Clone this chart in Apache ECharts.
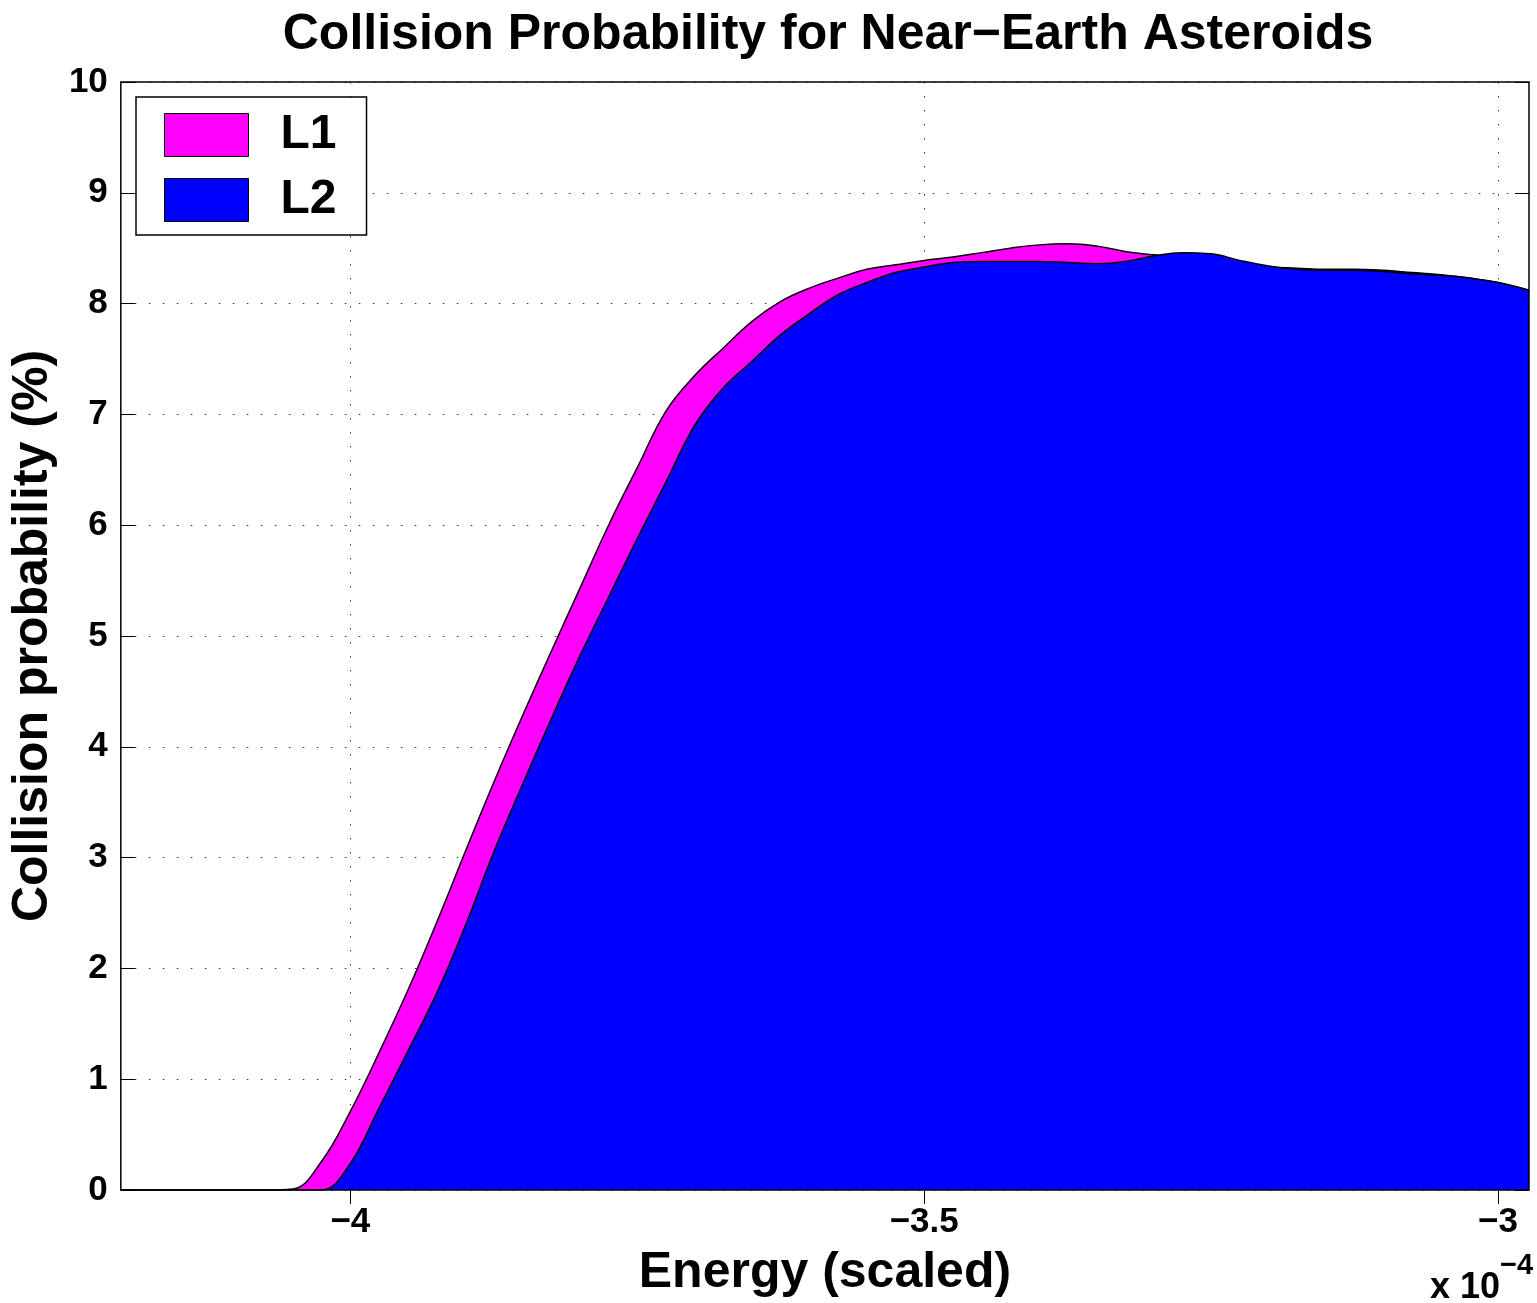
<!DOCTYPE html>
<html>
<head>
<meta charset="utf-8">
<title>Collision Probability</title>
<script src="https://cdn.jsdelivr.net/npm/echarts@6/dist/echarts.min.js"></script>
<style>
  html, body { margin: 0; padding: 0; background: #fff; }
  #chart { width: 1537px; height: 1303px; }
</style>
</head>
<body>
<div id="chart"></div>
<script>
// energy in units of 1e-4 (shared by both curves), probability in %
var energy = [-4.2, -4.075, -4.05, -4.025, -4.0, -3.975, -3.95, -3.925, -3.9, -3.875,
  -3.85, -3.825, -3.8, -3.775, -3.75, -3.725, -3.7, -3.675, -3.65, -3.625,
  -3.6, -3.575, -3.55, -3.525, -3.5, -3.475, -3.45, -3.425, -3.4, -3.375,
  -3.35, -3.325, -3.3, -3.275, -3.25, -3.225, -3.2, -3.175, -3.15, -3.125,
  -3.1, -3.075, -3.05, -3.025, -3.0, -2.973];
var l1Prob = [0, 0, 0.01, 0.26, 0.71, 1.24, 1.80, 2.41, 3.05, 3.68,
  4.28, 4.86, 5.43, 6.0, 6.52, 7.03, 7.35, 7.6, 7.84, 8.02,
  8.14, 8.23, 8.31, 8.35, 8.39, 8.42, 8.46, 8.50, 8.53, 8.54,
  8.52, 8.47, 8.44, 8.42, 8.40, 8.36, 8.33, 8.32, 8.31, 8.31,
  8.30, 8.28, 8.26, 8.23, 8.19, 8.12];
var l2Prob = [0, 0, 0, 0, 0.24, 0.74, 1.25, 1.77, 2.38, 3.05,
  3.66, 4.25, 4.82, 5.35, 5.88, 6.39, 6.90, 7.24, 7.48, 7.72,
  7.91, 8.08, 8.19, 8.28, 8.33, 8.37, 8.38, 8.38, 8.38, 8.37,
  8.36, 8.38, 8.43, 8.46, 8.45, 8.39, 8.34, 8.31, 8.30, 8.30,
  8.29, 8.27, 8.255, 8.23, 8.19, 8.12];

var seriesNames = ['L1', 'L2'];
var xTicks = [-4, -3.5, -3];
var xMin = -4.2, xMax = -2.973;
var yMin = 0, yMax = 10;

function pairs(xs, ys) {
  return xs.map(function (x, i) { return [x, ys[i]]; });
}

var font = 'Liberation Sans, Arial, sans-serif';
var myChart = echarts.init(document.getElementById('chart'));

var dotted = { color: '#333', width: 1, type: [1.5, 12.5] };
var tickStyle = { color: '#000', width: 1 };

var option = {
  animation: false,
  backgroundColor: '#fff',
  title: {
    text: 'Collision Probability for Near\u2212Earth Asteroids',
    left: 828,
    top: 10,
    textAlign: 'center',
    padding: 0,
    textStyle: { fontFamily: font, fontWeight: 'bold', fontSize: 50, color: '#000' }
  },
  legend: {
    data: seriesNames,
    orient: 'vertical',
    left: 136,
    top: 97,
    padding: [14, 30, 11, 28],
    itemWidth: 84,
    itemHeight: 43,
    itemGap: 17,
    icon: 'rect',
    backgroundColor: '#fff',
    borderColor: '#000',
    borderWidth: 1.5,
    borderRadius: 0,
    itemStyle: { borderColor: '#000', borderWidth: 1 },
    textStyle: { fontFamily: font, fontWeight: 'bold', fontSize: 48, color: '#000', padding: [0, 0, 0, 27] }
  },
  grid: {
    left: 120, right: 8, top: 82, bottom: 111,
    show: true,
    borderColor: '#000',
    borderWidth: 1.5,
    z: 10
  },
  xAxis: [
    {
      type: 'value',
      min: xMin, max: xMax,
      splitNumber: 2,
      name: 'Energy (scaled)',
      nameLocation: 'middle',
      nameGap: 58,
      nameTextStyle: { fontFamily: font, fontWeight: 'bold', fontSize: 50, color: '#000' },
      axisLine: { show: false },
      axisTick: { inside: true, length: 14, customValues: xTicks, lineStyle: tickStyle },
      axisLabel: {
        customValues: xTicks,
        margin: 15,
        fontFamily: font, fontWeight: 'bold', fontSize: 35, color: '#000',
        formatter: function (v) { return (v < 0 ? '\u2212' : '') + Math.abs(v); }
      },
      splitLine: { show: true, lineStyle: dotted }
    },
    {
      type: 'value',
      position: 'top',
      min: xMin, max: xMax,
      splitNumber: 2,
      axisLine: { show: false },
      axisTick: { inside: true, length: 14, customValues: xTicks, lineStyle: tickStyle },
      axisLabel: { show: false },
      splitLine: { show: false }
    }
  ],
  yAxis: [
    {
      type: 'value',
      min: yMin, max: yMax, interval: 1,
      name: 'Collision probability (%)',
      nameLocation: 'middle',
      nameGap: 52,
      nameTextStyle: { fontFamily: font, fontWeight: 'bold', fontSize: 50, color: '#000' },
      axisLine: { show: false },
      axisTick: { inside: true, length: 14, lineStyle: tickStyle },
      axisLabel: { margin: 13, fontFamily: font, fontWeight: 'bold', fontSize: 35, color: '#000' },
      splitLine: { show: true, lineStyle: dotted }
    },
    {
      type: 'value',
      position: 'right',
      min: yMin, max: yMax, interval: 1,
      axisLine: { show: false },
      axisTick: { inside: true, length: 14, lineStyle: tickStyle },
      axisLabel: { show: false },
      splitLine: { show: false }
    }
  ],
  graphic: [
    {
      type: 'text', x: 1500, y: 1288, z: 20,
      style: { text: 'x 10', align: 'right', verticalAlign: 'middle', font: 'bold 36px ' + font, fill: '#000' }
    },
    {
      type: 'text', x: 1500, y: 1266, z: 20,
      style: { text: '\u22124', align: 'left', verticalAlign: 'middle', font: 'bold 29px ' + font, fill: '#000' }
    }
  ],
  series: [
    {
      name: 'L1',
      type: 'line',
      z: 2,
      smooth: 0.4,
      showSymbol: false,
      symbol: 'none',
      itemStyle: { color: '#ff00ff' },
      lineStyle: { color: '#000', width: 1.5 },
      areaStyle: { color: '#ff00ff', opacity: 1 },
      data: pairs(energy, l1Prob)
    },
    {
      name: 'L2',
      type: 'line',
      z: 3,
      smooth: 0.4,
      showSymbol: false,
      symbol: 'none',
      itemStyle: { color: '#0000ff' },
      lineStyle: { color: '#000', width: 1.5 },
      areaStyle: { color: '#0000ff', opacity: 1 },
      data: pairs(energy, l2Prob)
    }
  ]
};

option && myChart.setOption(option);
</script>
</body>
</html>
